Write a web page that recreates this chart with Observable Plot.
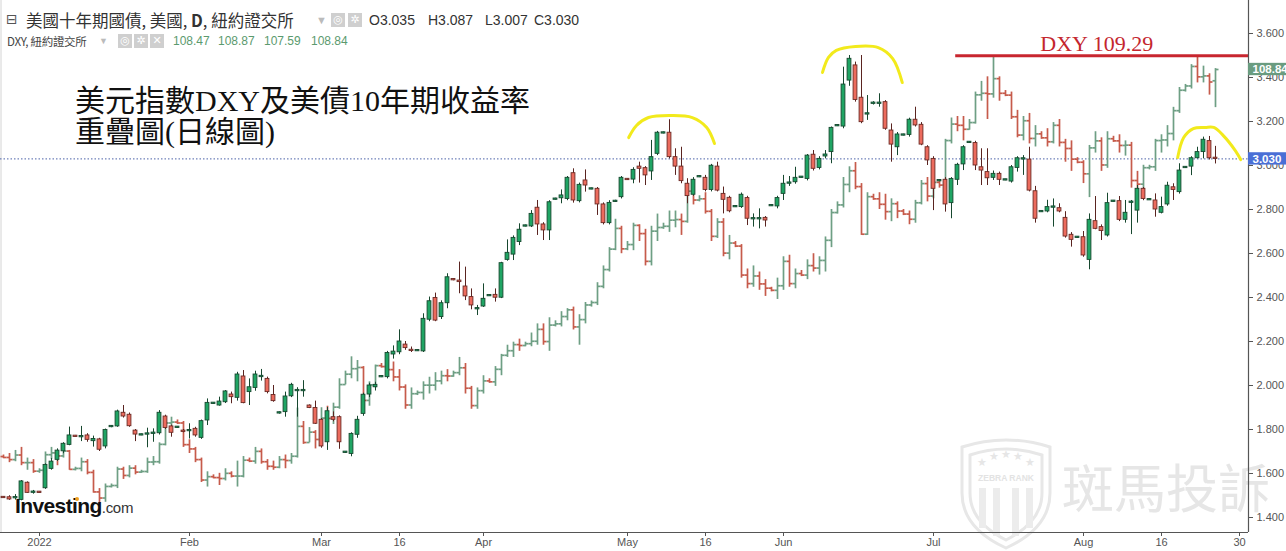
<!DOCTYPE html>
<html><head><meta charset="utf-8">
<script src="https://cdn.jsdelivr.net/npm/d3@7"></script>
<script src="https://cdn.jsdelivr.net/npm/@observablehq/plot@0.6"></script>
<style>
body{margin:0;background:#fff;}
#wrap{position:relative;width:1286px;height:551px;overflow:hidden;font-family:"Liberation Sans",Arial,"Noto Sans CJK TC",sans-serif;background:#fff;}
#chart{position:absolute;left:0;top:0;z-index:1}
.ov{position:absolute;z-index:2;white-space:nowrap;}
.ic{position:absolute;z-index:2;width:14px;height:14px;background:#cfcfcf;color:#fff;font-size:11px;line-height:14px;text-align:center;font-family:"DejaVu Sans",sans-serif;}
.hd{position:absolute;z-index:2;white-space:nowrap;top:12px;font-size:14px;line-height:17px;color:#333;}
</style></head><body>
<div id="wrap">
<svg width="1286" height="551" style="position:absolute;left:0;top:0;z-index:0">
  <g fill="none" stroke="#e7e7e7" stroke-width="3">
    <path d="M962 447 Q1006 433 1050 447 L1050 493 Q1050 528 1006 548 Q962 528 962 493 Z"/>
    <path d="M970 455 Q1006 443 1042 455 L1042 493 Q1042 522 1006 540 Q970 522 970 493 Z"/>
  </g>
  <g fill="#ececec">
    <rect x="979" y="488" width="7" height="40"/><rect x="993" y="488" width="7" height="48"/>
    <rect x="1012" y="488" width="7" height="48"/><rect x="1026" y="488" width="7" height="40"/>
  </g>
  <g fill="#e6e6e6" font-family="DejaVu Sans" font-size="11" text-anchor="middle">
    <text x="982" y="466">★</text><text x="994" y="460">★</text><text x="1006" y="458">★</text><text x="1018" y="460">★</text><text x="1030" y="466">★</text>
  </g>
  <text x="1006" y="481" text-anchor="middle" font-size="8.5" font-weight="bold" fill="#e3e3e3" font-family="Liberation Sans">ZEBRA RANK</text>
  <text x="1062" y="508" font-size="52" fill="#e6e6e6" font-family="Noto Sans CJK TC">斑馬投訴</text>
  <line x1="1" y1="0" x2="1" y2="532" stroke="#d4d4d4" stroke-width="1"/>
</svg>
<div id="chart"></div>

<div class="ov" style="left:6px;top:10px;font-size:14px;line-height:18px;color:#555;font-family:'DejaVu Sans'">⊟</div>
<div class="ov" style="left:26px;top:11px;font-size:16.5px;line-height:18px;color:#333;font-family:'Noto Sans CJK TC',sans-serif">美國十年期國債, 美國, <b>D</b>, 紐約證交所</div>
<div class="ov" style="left:316px;top:12px;font-size:11px;line-height:16px;color:#bbb">▼</div>
<div class="ic" style="left:331px;top:13px">◎</div>
<div class="ic" style="left:348px;top:13px">✲</div>
<div class="hd" style="left:369px">O3.035</div>
<div class="hd" style="left:428px">H3.087</div>
<div class="hd" style="left:485px">L3.007</div>
<div class="hd" style="left:534px">C3.030</div>

<div class="ov" style="left:7px;top:34px;font-size:11.5px;line-height:14px;color:#444;font-family:'Noto Sans CJK TC',sans-serif;letter-spacing:-0.3px">DXY, 紐約證交所</div>
<div class="ov" style="left:99px;top:34px;font-size:9px;line-height:14px;color:#bbb">▼</div>
<div class="ic" style="left:118px;top:34px">◎</div>
<div class="ic" style="left:134px;top:34px">✲</div>
<div class="ic" style="left:150px;top:34px">✕</div>
<div class="ov" style="left:173px;top:34px;font-size:12px;line-height:14px;color:#5b9a6e">108.47</div>
<div class="ov" style="left:218px;top:34px;font-size:12px;line-height:14px;color:#5b9a6e">108.87</div>
<div class="ov" style="left:264px;top:34px;font-size:12px;line-height:14px;color:#5b9a6e">107.59</div>
<div class="ov" style="left:311px;top:34px;font-size:12px;line-height:14px;color:#5b9a6e">108.84</div>

<div class="ov" style="left:75px;top:85px;font-size:30px;line-height:31px;color:#111;font-family:'Liberation Serif','Noto Sans CJK TC',serif">美元指數DXY及美債10年期收益率<br>重疊圖(日線圖)</div>

<div class="ov" style="left:15px;top:494px;font-size:21px;line-height:24px;font-weight:bold;color:#111;letter-spacing:-0.6px">Investing<span style="font-weight:normal;font-size:15px;color:#333;letter-spacing:-0.3px">.com</span></div>
<div class="ov" style="left:75px;top:497px;width:4px;height:4px;border-radius:2px;background:#f0a020"></div>
</div>

<script>
// ---- US 10Y yield daily candles (index 0 = 2021-12-26 ... 202 = 2022-08-26) ----
const yO = [
1.492,1.492,1.489,1.480,1.558,1.514,1.515,1.533,1.621,1.662,
1.701,1.730,1.770,1.766,1.773,1.747,1.755,1.723,1.812,1.814,
1.876,1.867,1.795,1.775,1.778,1.782,1.783,1.859,1.814,1.809,
1.793,1.794,1.803,1.762,1.841,1.918,1.909,1.924,1.959,1.944,
2.041,1.970,1.989,2.040,2.030,1.957,1.874,1.879,1.951,1.976,
1.976,1.909,1.898,1.844,1.742,1.856,1.856,1.696,1.689,1.776,
1.871,1.959,1.992,2.039,2.038,2.141,2.151,2.186,2.160,2.158,
2.155,2.299,2.398,2.311,2.374,2.482,2.477,2.450,2.402,2.348,
2.359,2.408,2.412,2.399,2.571,2.595,2.652,2.724,2.723,2.808,
2.732,2.705,2.846,2.851,2.848,2.965,2.838,2.932,2.893,2.894,
2.823,2.738,2.836,2.856,2.937,2.936,2.995,2.988,2.973,3.053,
3.147,3.149,3.038,2.995,2.917,2.867,2.948,2.944,2.889,2.995,
2.871,2.853,2.812,2.811,2.852,2.757,2.757,2.762,2.817,2.814,
2.871,2.919,2.924,2.946,2.939,3.049,2.989,3.041,3.061,3.180,
3.177,3.386,3.455,3.308,3.233,3.282,3.282,3.288,3.159,3.083,
3.138,3.139,3.208,3.185,3.083,3.030,2.930,2.935,2.829,2.935,
3.005,3.104,3.102,2.992,2.970,2.944,2.962,2.934,2.927,2.989,
3.029,3.027,2.883,2.790,2.791,2.810,2.806,2.762,2.685,2.673,
2.674,2.571,2.747,2.720,2.682,2.837,2.838,2.753,2.832,2.795,
2.894,2.844,2.841,2.785,2.823,2.901,2.879,2.990,2.995,3.033,
3.061,3.111,3.035];
const yH = [
1.495,1.499,1.504,1.568,1.562,1.523,1.518,1.644,1.668,1.712,
1.740,1.811,1.773,1.814,1.781,1.770,1.760,1.802,1.818,1.888,
1.909,1.875,1.800,1.779,1.806,1.803,1.886,1.865,1.820,1.813,
1.800,1.826,1.810,1.843,1.939,1.922,1.947,1.977,1.970,2.060,
2.068,2.030,2.065,2.073,2.038,2.000,1.880,1.970,2.010,1.990,
2.022,1.912,1.929,1.850,1.900,1.880,1.862,1.700,1.785,1.860,
1.965,2.010,2.015,2.044,2.155,2.180,2.253,2.200,2.175,2.162,
2.326,2.402,2.420,2.385,2.508,2.485,2.561,2.538,2.439,2.364,
2.462,2.412,2.439,2.560,2.662,2.680,2.735,2.729,2.795,2.841,
2.740,2.840,2.851,2.889,2.950,2.985,2.920,2.980,2.897,2.900,
2.830,2.840,2.842,2.950,2.940,2.990,3.015,2.995,3.114,3.155,
3.152,3.208,3.076,3.083,2.940,2.945,2.953,2.955,3.005,3.015,
2.902,2.860,2.817,2.875,2.860,2.780,2.803,2.768,2.821,2.860,
2.955,2.950,2.992,2.950,3.050,3.068,3.040,3.068,3.175,3.185,
3.447,3.500,3.470,3.500,3.318,3.290,3.326,3.295,3.189,3.150,
3.142,3.215,3.265,3.195,3.090,3.040,2.935,2.945,2.945,3.010,
3.090,3.109,3.110,3.076,3.076,2.975,2.970,2.937,3.000,3.040,
3.045,3.083,2.905,2.794,2.842,2.848,2.826,2.790,2.695,2.677,
2.700,2.780,2.859,2.730,2.874,2.841,2.859,2.841,2.841,2.909,
2.900,2.848,2.871,2.856,2.924,2.917,3.008,2.995,3.040,3.083,
3.129,3.132,3.087];
const yL = [
1.488,1.478,1.479,1.476,1.510,1.506,1.512,1.528,1.615,1.655,
1.690,1.726,1.765,1.745,1.742,1.720,1.700,1.712,1.808,1.810,
1.852,1.810,1.745,1.772,1.717,1.742,1.775,1.800,1.765,1.806,
1.785,1.757,1.765,1.755,1.818,1.915,1.906,1.918,1.917,1.929,
1.917,1.909,1.974,2.020,1.962,1.924,1.870,1.856,1.945,1.856,
1.947,1.895,1.823,1.715,1.705,1.835,1.710,1.692,1.676,1.760,
1.860,1.945,1.975,2.036,2.030,2.120,2.140,2.160,2.150,2.155,
2.150,2.290,2.290,2.300,2.349,2.476,2.417,2.386,2.344,2.318,
2.355,2.405,2.379,2.395,2.565,2.568,2.636,2.721,2.718,2.682,
2.659,2.659,2.843,2.826,2.840,2.829,2.830,2.879,2.890,2.773,
2.730,2.730,2.832,2.848,2.932,2.917,2.920,2.909,2.932,3.045,
3.144,3.030,2.955,2.917,2.826,2.860,2.945,2.880,2.880,2.880,
2.780,2.785,2.809,2.805,2.727,2.720,2.712,2.720,2.814,2.803,
2.841,2.905,2.915,2.943,2.930,2.975,2.980,3.030,3.008,3.177,
3.167,3.360,3.288,3.190,3.205,3.275,3.265,3.160,3.015,3.045,
3.135,3.129,3.175,3.090,3.000,2.795,2.927,2.788,2.758,2.909,
2.977,3.101,2.977,2.909,2.909,2.932,2.909,2.931,2.920,2.970,
2.955,2.880,2.738,2.787,2.785,2.720,2.785,2.670,2.629,2.670,
2.583,2.526,2.708,2.659,2.675,2.834,2.745,2.738,2.686,2.738,
2.840,2.841,2.765,2.780,2.815,2.841,2.870,2.987,2.954,3.030,
3.030,3.025,3.007];
const yC = [
1.490,1.482,1.491,1.564,1.512,1.516,1.514,1.639,1.654,1.704,
1.735,1.773,1.768,1.769,1.753,1.757,1.708,1.798,1.815,1.882,
1.859,1.815,1.777,1.776,1.781,1.784,1.876,1.807,1.785,1.811,
1.791,1.796,1.773,1.838,1.921,1.920,1.927,1.973,1.947,2.050,
1.920,1.992,2.050,2.042,1.970,1.929,1.877,1.950,2.003,1.978,
1.978,1.898,1.826,1.723,1.883,1.844,1.742,1.697,1.780,1.844,
1.958,2.000,2.003,2.041,2.148,2.154,2.200,2.170,2.159,2.159,
2.303,2.383,2.295,2.374,2.492,2.480,2.470,2.405,2.364,2.350,
2.394,2.409,2.399,2.556,2.603,2.671,2.708,2.726,2.780,2.732,
2.705,2.833,2.848,2.864,2.944,2.841,2.912,2.909,2.894,2.823,
2.738,2.830,2.838,2.944,2.936,2.980,2.985,2.955,3.038,3.149,
3.149,3.038,2.995,2.929,2.861,2.935,2.950,2.889,2.999,2.886,
2.844,2.792,2.814,2.867,2.758,2.759,2.759,2.750,2.818,2.852,
2.917,2.921,2.944,2.947,3.045,2.985,3.030,3.050,3.171,3.182,
3.368,3.485,3.298,3.197,3.236,3.284,3.284,3.167,3.095,3.141,
3.139,3.208,3.182,3.095,3.023,2.894,2.932,2.823,2.939,3.003,
3.083,3.106,3.000,2.977,2.942,2.962,2.935,2.935,2.992,3.033,
3.031,2.886,2.758,2.791,2.811,2.812,2.791,2.677,2.662,2.674,
2.591,2.753,2.712,2.702,2.829,2.838,2.753,2.785,2.834,2.894,
2.848,2.845,2.800,2.811,2.908,2.889,2.977,2.992,3.033,3.061,
3.117,3.033,3.030];

// ---- DXY daily OHLC bars, same bar index ----
const dO = [
96.15,96.12,96.05,96.20,95.95,95.95,95.67,95.70,96.21,96.27,
96.17,96.33,95.73,95.76,95.98,95.63,94.99,94.79,95.17,95.20,
95.74,95.53,95.77,95.64,95.66,95.97,95.98,96.55,97.25,97.28,
97.25,96.54,96.40,96.05,95.38,95.49,95.46,95.43,95.60,95.51,
95.51,96.03,96.00,96.32,95.98,95.83,95.80,96.05,96.02,96.16,
97.14,96.61,96.95,96.71,97.41,97.40,97.77,98.51,98.85,99.03,
99.07,97.99,98.50,99.13,99.10,99.00,98.76,98.43,97.84,98.21,
98.25,98.49,98.49,98.63,98.80,98.79,98.90,99.06,98.39,97.82,
98.31,98.63,98.60,99.01,99.47,99.62,99.82,99.79,99.85,99.93,
100.32,99.92,100.46,100.50,100.74,100.96,100.40,100.64,101.12,101.20,
101.73,102.28,102.95,103.63,102.96,103.10,103.73,103.46,102.55,103.54,
103.66,103.70,103.90,103.92,103.86,104.85,104.56,104.60,104.19,103.37,
103.84,102.82,103.15,103.05,102.10,101.82,102.07,101.81,101.67,101.60,
101.75,102.55,101.82,102.15,102.10,102.41,102.33,102.58,103.24,104.15,
104.40,105.07,105.52,105.00,103.44,104.67,104.60,104.42,104.18,104.44,
104.20,104.10,103.93,104.47,105.10,104.69,105.14,105.05,106.51,107.05,
107.01,106.88,107.10,108.01,108.06,108.04,108.54,108.06,108.00,107.29,
106.69,107.16,106.58,106.73,106.60,106.47,107.01,106.45,106.25,105.90,
105.80,105.42,106.27,106.50,105.71,106.57,106.50,106.35,106.36,105.20,
105.08,105.62,105.65,106.51,106.53,106.74,107.49,108.16,108.30,108.94,
108.60,108.63,108.47];
const dH = [
96.20,96.25,96.35,96.45,96.10,96.05,95.75,96.30,96.45,96.35,
96.45,96.35,95.80,96.10,96.05,95.70,95.10,95.25,95.25,95.80,
95.80,95.85,95.85,95.70,96.10,96.15,96.60,97.30,97.44,97.35,
97.30,96.70,96.45,96.10,95.65,95.55,95.60,95.75,95.65,96.00,
96.15,96.10,96.45,96.40,96.05,96.00,96.15,96.20,96.25,97.74,
97.30,97.10,97.00,97.75,97.80,97.90,98.70,98.95,99.42,99.30,
99.10,98.60,99.15,99.20,99.30,99.25,99.00,98.50,98.40,98.30,
98.60,98.75,98.90,98.95,99.00,98.95,99.40,99.20,98.45,98.40,
98.80,98.70,99.10,99.50,99.80,99.90,100.00,99.90,100.20,100.50,
100.50,100.70,100.60,100.90,101.00,101.05,100.80,101.20,101.25,101.85,
102.40,103.00,103.93,103.70,103.20,103.80,103.75,103.60,103.70,104.10,
103.80,104.20,104.20,104.10,104.95,105.00,104.70,104.80,104.25,103.95,
103.95,103.40,103.20,103.10,102.30,102.40,102.20,101.95,101.70,102.00,
102.70,102.75,102.30,102.25,102.60,102.80,102.70,103.35,104.25,104.50,
105.30,105.65,105.79,105.10,104.80,104.75,104.80,104.75,104.60,104.50,
104.25,104.20,104.55,105.20,105.30,105.30,105.20,106.55,107.25,107.30,
107.30,107.20,108.10,108.45,108.60,109.29,108.60,108.15,108.10,107.50,
107.30,107.40,107.00,106.80,106.90,107.10,107.20,106.55,106.50,105.95,
105.85,106.35,106.80,106.60,106.80,106.65,106.70,106.50,106.45,105.50,
105.70,105.70,106.55,106.70,107.00,107.60,108.25,108.35,109.00,109.27,
108.95,108.70,108.87];
const dL = [
96.08,95.95,95.98,95.85,95.70,95.60,95.60,95.60,96.05,95.85,
96.10,95.70,95.68,95.65,95.55,94.95,94.63,94.65,95.12,95.10,
95.40,95.45,95.55,95.60,95.60,95.85,95.90,96.50,97.05,97.20,
96.45,96.25,95.95,95.30,95.15,95.42,95.20,95.35,95.45,95.15,
95.45,95.95,95.90,95.90,95.70,95.70,95.75,95.75,95.90,96.10,
96.55,96.60,96.40,96.65,97.10,97.20,97.70,98.50,98.70,98.60,
97.70,97.80,98.40,99.05,98.80,98.60,98.30,97.70,97.70,98.15,
98.00,98.20,98.30,98.50,98.60,98.75,98.80,98.20,97.70,97.70,
98.20,98.55,98.45,98.80,99.40,99.40,99.60,99.75,99.75,99.80,
99.80,99.60,100.40,100.40,100.60,100.30,99.80,100.50,101.05,101.10,
101.65,102.20,102.90,102.80,102.90,102.90,103.20,102.40,102.40,103.20,
103.60,103.50,103.65,103.40,103.80,104.40,104.50,104.10,103.20,103.30,
102.70,102.60,103.00,102.00,101.65,101.70,101.60,101.40,101.55,101.30,
101.60,101.70,101.65,102.05,101.95,102.20,102.10,102.20,103.00,104.10,
104.30,104.80,104.90,103.40,103.40,104.55,104.25,103.90,103.85,103.95,
104.05,103.75,103.80,104.40,104.50,104.60,104.95,104.90,106.40,106.80,
106.50,106.85,107.05,107.80,107.20,107.90,107.80,107.95,107.20,106.60,
106.50,106.40,106.30,106.55,106.30,106.40,106.30,105.80,105.50,105.75,
105.10,104.64,106.10,105.50,105.60,106.45,106.10,106.00,104.95,104.64,
104.90,105.55,105.50,106.10,106.30,106.50,107.40,108.10,108.20,108.40,
108.40,108.00,107.59];
const dC = [
96.12,96.05,96.20,95.95,95.95,95.67,95.70,96.21,96.27,96.17,
96.33,95.73,95.76,95.98,95.63,94.99,94.79,95.17,95.20,95.74,
95.53,95.77,95.64,95.66,95.97,95.98,96.55,97.25,97.28,97.25,
96.54,96.40,96.05,95.38,95.49,95.46,95.43,95.60,95.51,95.51,
96.03,96.00,96.32,95.98,95.83,95.80,96.05,96.02,96.16,97.14,
96.61,96.95,96.71,97.41,97.40,97.77,98.51,98.85,99.03,99.07,
97.99,98.50,99.13,99.10,99.00,98.76,98.43,97.84,98.21,98.25,
98.49,98.49,98.63,98.80,98.79,98.90,99.06,98.39,97.82,98.31,
98.63,98.60,99.01,99.47,99.62,99.82,99.79,99.85,99.93,100.32,
99.92,100.46,100.50,100.74,100.96,100.40,100.64,101.12,101.20,101.73,
102.28,102.95,103.63,102.96,103.10,103.73,103.46,102.55,103.54,103.66,
103.70,103.90,103.92,103.86,104.85,104.56,104.60,104.19,103.37,103.84,
102.82,103.15,103.05,102.10,101.82,102.07,101.81,101.67,101.60,101.75,
102.55,101.82,102.15,102.10,102.41,102.33,102.58,103.24,104.15,104.40,
105.07,105.52,105.00,103.44,104.67,104.60,104.42,104.18,104.44,104.20,
104.10,103.93,104.47,105.10,104.69,105.14,105.05,106.51,107.05,107.01,
106.88,107.10,108.01,108.06,108.04,108.54,108.06,108.00,107.29,106.69,
107.16,106.58,106.73,106.60,106.47,107.01,106.45,106.25,105.90,105.80,
105.42,106.27,106.50,105.71,106.57,106.50,106.35,106.36,105.20,105.08,
105.62,105.65,106.51,106.53,106.74,107.49,108.16,108.30,108.94,108.60,
108.63,108.43,108.84];

// ---- axis ticks ----
const xTickIdx = [6, 31, 53, 66, 80, 104, 117, 130, 155, 180, 193, 206];
const xTickLab = ["2022", "Feb", "Mar", "16", "Apr", "May", "16", "Jun", "Jul", "Aug", "16", "30"];
const yTicks = [1.4, 1.6, 1.8, 2.0, 2.2, 2.4, 2.6, 2.8, 3.0, 3.2, 3.4, 3.6];

// ---- annotations ----
const dxyPeak = 109.29;
const dxyPeakLabel = "DXY 109.29";
const peakLineStart = 158.7;     // bar index where the hand-drawn red line starts
const peakLabelStart = 172.8;    // bar index where the red label starts
const arcX = [[104.2,105.5,107.5,111.2,114.8,117.2,118.5],[136.5,137.5,138.8,142.0,145.8,148.2,149.8],[195.7,196.7,198.3,200.3,201.7,203.3,205.3,206.2]];
const arcY = [[3.127,3.182,3.218,3.227,3.218,3.173,3.100],[3.423,3.491,3.523,3.541,3.536,3.486,3.377],[3.036,3.127,3.168,3.173,3.173,3.136,3.068,3.027]];

// DXY is drawn on the yield axis: 108.84 sits at 3.4364, 1 DXY point = 30.5/220 yield units
const dxyRef = 108.84, dxyAt = 3.43636, dxyScale = 30.5 / 220;
const toY = v => dxyAt + (v - dxyRef) * dxyScale;

const rows = yC.map((c, i) => {
  const o = yO[i];
  let lo = Math.min(o, c), hi = Math.max(o, c);
  if (hi - lo < 0.006) { const m = (o + c) / 2; lo = m - 0.003; hi = m + 0.003; }
  return {i, o, h: yH[i], l: yL[i], c, lo, hi, up: c >= o,
          dO: dO[i], dH: dH[i], dL: dL[i], dC: dC[i], dUp: dC[i] >= dO[i]};
});
const N = rows.length;
const lastY = yC[N - 1], lastD = dC[N - 1];
const xMax = 207.5, yMin = 1.33182, yMax = 3.75;
const tickMap = new Map(xTickIdx.map((d, k) => [d, xTickLab[k]]));
const arcs = arcX.flatMap((xs, a) => xs.map((x, k) => ({arc: a, x, y: arcY[a][k]})));
const tags = [
  {y: toY(lastD), label: lastD.toFixed(2), color: "#6a9c80"},
  {y: lastY, label: lastY.toFixed(3), color: "#4a6fd6"}
];

const dCol = d => d.dUp ? "#6e9f84" : "#c65b4b";
const plot = Plot.plot({
  width: 1286, height: 551,
  marginLeft: 0, marginRight: 38, marginTop: 0, marginBottom: 19,
  x: {domain: [-0.5, xMax]},
  y: {domain: [yMin, yMax]},
  style: {background: "transparent", fontFamily: "'Liberation Sans', Arial, sans-serif", fontSize: "11px", color: "#555", overflow: "visible"},
  marks: [
    Plot.ruleY([lastY], {stroke: "#4b62a8", strokeDasharray: "1.5 2", strokeWidth: 1}),
    // DXY OHLC bars
    Plot.ruleX(rows, {x: "i", y1: d => toY(d.dL), y2: d => toY(d.dH), stroke: dCol, strokeWidth: 1.7}),
    Plot.link(rows, {x1: d => d.i - 0.5, x2: "i", y1: d => toY(d.dO), y2: d => toY(d.dO), stroke: dCol, strokeWidth: 1.7}),
    Plot.link(rows, {x1: "i", x2: d => d.i + 0.5, y1: d => toY(d.dC), y2: d => toY(d.dC), stroke: dCol, strokeWidth: 1.7}),
    // yield candles
    Plot.ruleX(rows, {x: "i", y1: "l", y2: "h", stroke: d => d.up ? "#17482f" : "#5a2420", strokeWidth: 1}),
    Plot.rect(rows, {x1: d => d.i - 0.32, x2: d => d.i + 0.32, y1: "lo", y2: "hi",
      fill: d => d.up ? "#1fa564" : "#ec6b5d", stroke: d => d.up ? "#17482f" : "#6b2a24", strokeWidth: 0.9}),
    // annotations
    Plot.line(arcs, {x: "x", y: "y", z: "arc", curve: "catmull-rom", stroke: "#f2ea1c", strokeWidth: 3, strokeLinecap: "round"}),
    Plot.ruleY([toY(dxyPeak)], {x1: peakLineStart, x2: xMax, stroke: "#c8262f", strokeWidth: 3}),
    Plot.text([dxyPeakLabel], {x: peakLabelStart, y: toY(dxyPeak), text: d => d, textAnchor: "start", lineAnchor: "bottom", dy: -5,
      fill: "#c4262e", fontSize: 22, fontFamily: "'Liberation Serif', serif"}),
    // axes
    Plot.axisY({anchor: "right", ticks: yTicks, tickFormat: d => d.toFixed(3), tickSize: 4, tickPadding: 4, label: null}),
    Plot.axisX({ticks: xTickIdx, tickFormat: d => tickMap.get(d), tickSize: 4, tickPadding: 2, label: null}),
    Plot.ruleX([xMax], {stroke: "#555", strokeWidth: 1.2}),
    Plot.ruleY([yMin], {stroke: "#555", strokeWidth: 1.2}),
    // last value tags
    Plot.rect(tags, {x1: xMax, x2: 214.5, y1: d => d.y - 0.028, y2: d => d.y + 0.028, fill: "color"}),
    Plot.text(tags, {x: xMax, y: "y", text: "label", dx: 4, textAnchor: "start", fill: "white", fontWeight: "bold", fontSize: 11.5})
  ]
});
document.getElementById("chart").appendChild(plot);
</script>
</body></html>
